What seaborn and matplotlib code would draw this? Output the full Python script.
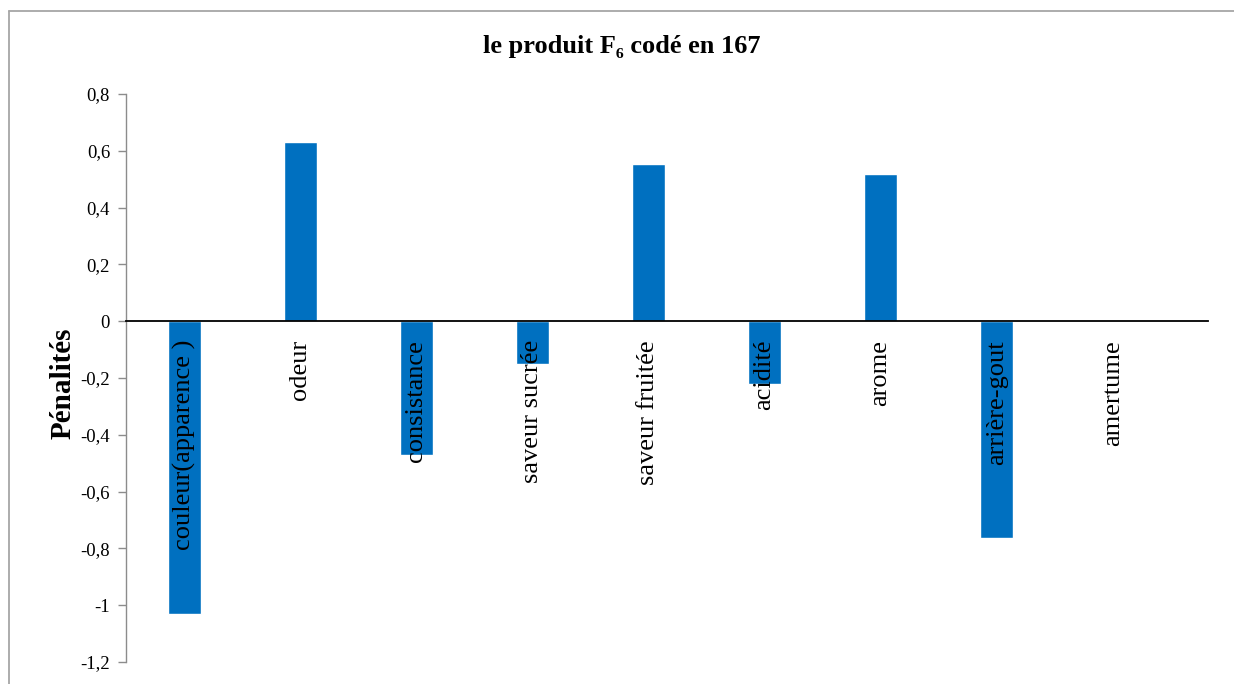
import matplotlib
matplotlib.use("Agg")
import matplotlib.pyplot as plt
import seaborn as sns
import pandas as pd
from matplotlib.lines import Line2D

categories = ["couleur(apparence )", "odeur", "consistance", "saveur sucrée",
              "saveur fruitée", "acidité", "arome", "arrière-gout", "amertume"]
values = [-1.03, 0.63, -0.47, -0.15, 0.555, -0.22, 0.52, -0.765, 0.0]
yticks = [0.8, 0.6, 0.4, 0.2, 0, -0.2, -0.4, -0.6, -0.8, -1, -1.2]
ytick_labels = ["0,8", "0,6", "0,4", "0,2", "0", "-0,2", "-0,4", "-0,6", "-0,8", "-1", "-1,2"]
title = "le produit F₆ codé en 167"
ylabel = "Pénalités"

sns.set_style("white")
plt.rcParams["font.family"] = ["Liberation Serif", "DejaVu Serif"]
plt.rcParams["text.color"] = "black"
plt.rcParams["axes.labelcolor"] = "black"
plt.rcParams["xtick.color"] = "black"
plt.rcParams["ytick.color"] = "black"

df = pd.DataFrame({"cat": categories, "val": values})

fig = plt.figure(figsize=(12.34, 6.84), dpi=100)
ax = fig.add_axes([126 / 1234, 1 - 662 / 684, (1208 - 126) / 1234, (662 - 94) / 684])

sns.barplot(data=df, x="cat", y="val", order=categories, color="#0070C0",
            saturation=1, width=0.285, ax=ax)
ax.set_axisbelow(False)

ax.set_xlim(-0.5, 8.82)
ax.set_ylim(-1.2, 0.8)
ax.set_yticks(yticks)
ax.set_yticklabels(ytick_labels, fontsize=13.5)
ax.tick_params(axis="y", direction="out", length=6, width=1, color="#8C8C8C",
               labelcolor="black", pad=5.5, left=True)
ax.tick_params(axis="x", length=0, pad=13.5, labelsize=19, labelrotation=90,
               labelcolor="black")
for lab in ax.get_xticklabels():
    lab.set_rotation(90)
    lab.set_va("top")
    lab.set_ha("center")

for s in ["top", "right"]:
    ax.spines[s].set_visible(False)
ax.spines["left"].set_color("#8C8C8C")
ax.spines["left"].set_linewidth(1.0)
ax.spines["bottom"].set_position(("data", 0))
ax.spines["bottom"].set_color("black")
ax.spines["bottom"].set_linewidth(1.3)
ax.spines["bottom"].set_zorder(5)

ax.set_xlabel("")
ax.set_ylabel(ylabel, fontsize=21, fontweight="bold", color="black")
ax.yaxis.set_label_coords(-0.046, 0.491)

fig.text(622 / 1234, 1 - 47 / 684, title, fontsize=19, fontweight="bold",
         ha="center", va="center", color="black")

# chart-area border (left and top edges)
fig.add_artist(Line2D([9 / 1234, 9 / 1234], [0, 1 - 10.5 / 684], transform=fig.transFigure,
                      color="#A6A6A6", lw=1.3))
fig.add_artist(Line2D([9 / 1234, 1], [1 - 10.5 / 684, 1 - 10.5 / 684], transform=fig.transFigure,
                      color="#A6A6A6", lw=1.3))

fig.savefig("out.png", dpi=100)
